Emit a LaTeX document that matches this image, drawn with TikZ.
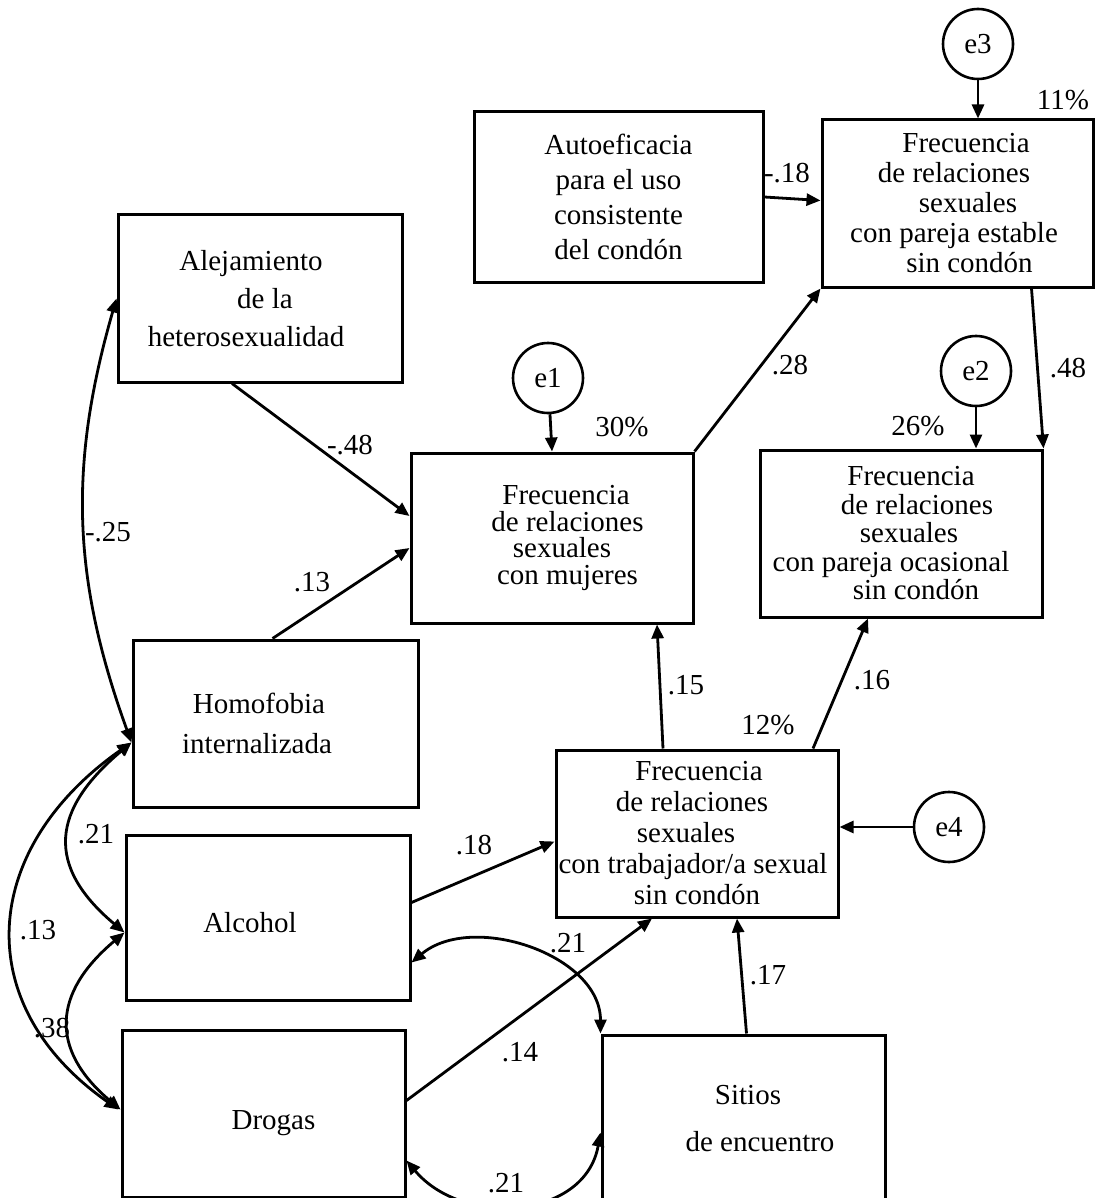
\documentclass[tikz,border=0pt]{standalone}
\usepackage{fontspec}
\setmainfont{Liberation Serif}
\usetikzlibrary{arrows.meta}

\begin{document}
\begin{tikzpicture}[
    x=1pt, y=1pt,
    caja/.style={draw, line width=3pt, inner sep=0pt, align=center,
      minimum width=282pt, minimum height=167pt, font=\fontsize{29}{#1}\selectfont},
    caja/.default=30,
    error/.style={circle, draw, line width=2.6pt, minimum size=70pt, inner sep=0pt,
      font=\fontsize{29}{30}\selectfont},
    coef/.style={inner sep=0pt, font=\fontsize{29}{30}\selectfont},
    ruta/.style={-{Triangle[length=14pt,width=12pt]}, line width=2.8pt},
    cova/.style={{Triangle[length=14pt,width=12pt]}-{Triangle[length=14pt,width=12pt]}, line width=2.8pt}
  ]
  \useasboundingbox (0,0) rectangle (1100,-1198);
  \clip (0,0) rectangle (1100,-1198);

  % Variables observadas
  \node[caja=38, minimum width=284pt] (Alej) at (260,-298.5)
    {\hspace*{-18pt}Alejamiento\\\hspace*{10pt}de la\\\hspace*{-28pt}heterosexualidad};
  \node[caja=35, minimum width=289pt, minimum height=170pt] (Auto) at (618.5,-197)
    {Autoeficacia\\para el uso\\consistente\\del condón};
  \node[caja=30, minimum width=271pt] (Est) at (957.5,-203.5)
    {\hspace*{17pt}Frecuencia\\\hspace*{-7pt}de relaciones\\\hspace*{21pt}sexuales\\\hspace*{-7pt}con pareja estable\\\hspace*{24pt}sin condón};
  \node[caja=26.5, minimum height=170pt] (Muj) at (552,-538)
    {\hspace*{28pt}Frecuencia\\\hspace*{31pt}de relaciones\\\hspace*{20pt}sexuales\\\hspace*{31pt}con mujeres};
  \node[caja=28.5] (Ocas) at (901,-533.5)
    {\hspace*{20pt}Frecuencia\\\hspace*{32pt}de relaciones\\\hspace*{16pt}sexuales\\\hspace*{-20pt}con pareja ocasional\\\hspace*{30pt}sin condón};
  \node[caja=40, minimum width=285pt] (Homo) at (275.5,-723.5)
    {\hspace*{-33pt}Homofobia\\\hspace*{-37pt}internalizada};
  \node[caja=31] (Trab) at (697,-833.5)
    {\hspace*{4pt}Frecuencia\\\hspace*{-10pt}de relaciones\\\hspace*{-22pt}sexuales\\\hspace*{-8pt}con trabajador/a sexual\\sin condón};
  \node[caja, minimum width=284pt, minimum height=165pt] (Alc) at (268,-917.5)
    {\hspace*{-36pt}\raisebox{-15pt}[0pt][0pt]{Alcohol}};
  \node[caja, minimum width=283pt] (Drog) at (263.5,-1113.5)
    {\hspace*{20pt}\raisebox{-16pt}[0pt][0pt]{Drogas}};
  \node[caja=47, minimum width=283pt] (Sit) at (743.5,-1118.5)
    {\hspace*{9pt}Sitios\\\hspace*{33pt}de encuentro};

  % Errores
  \node[error] (e3) at (978,-44) {e3};
  \node[error] (e1) at (548,-378) {e1};
  \node[error] (e2) at (976,-371) {e2};
  \node[error] (e4) at (949,-827) {e4};

  \draw[ruta] (e3) -- (e3 |- Est.north);
  \draw[ruta] (e1) -- (Muj.north);
  \draw[ruta] (e2) -- (e2 |- Ocas.north);
  \draw[ruta] (e4) -- (e4 -| Trab.east);

  % Efectos directos
  \draw[ruta] (Auto.east) -- ([yshift=3pt]Est.west);
  \draw[ruta] (Muj.north east) -- (Est.south west);
  \draw[ruta] ([xshift=-63pt]Est.south east) -- (Ocas.north east);
  \draw[ruta] ([xshift=-28pt]Alej.south) -- ([yshift=22pt]Muj.west);
  \draw[ruta] ([xshift=-3pt]Homo.north) -- ([yshift=-10pt]Muj.west);
  \draw[ruta] ([xshift=-34pt]Trab.north) -- ([xshift=105pt]Muj.south);
  \draw[ruta] ([xshift=116pt]Trab.north) -- ([xshift=-33pt]Ocas.south);
  \draw[ruta] ([yshift=15pt]Alc.east) -- ([yshift=-8pt]Trab.west);
  \draw[ruta] ([yshift=13pt]Drog.east) -- ([xshift=-45pt]Trab.south);
  \draw[ruta] ([xshift=3pt]Sit.north) -- ([xshift=40pt]Trab.south);

  % Covarianzas
  \draw[cova] ([yshift=-19pt]Homo.west) to[bend left=18] (Alej.west);
  \draw[cova] ([yshift=-19pt]Homo.west) to[out=220, in=140, looseness=1.4] ([yshift=-15pt]Alc.west);
  \draw[cova] ([yshift=-19pt]Homo.west) to[out=215, in=145, looseness=1.28] ([xshift=-2pt,yshift=4pt]Drog.west);
  \draw[cova] ([yshift=-15pt]Alc.west) to[out=220, in=140, looseness=1.35] ([yshift=4pt]Drog.west);
  \draw[cova] ([yshift=-45pt]Alc.east) to[out=40, in=90] (Sit.north west);
  \draw[cova] ([yshift=-47pt]Drog.east) to[out=-50, in=-100, looseness=1.15] ([yshift=-14pt]Sit.west);

  % Coeficientes y varianza explicada
  \node[coef] (r2Est) at (1063,-100) {11\%};
  \node[coef] (r2Muj) at (622,-427) {30\%};
  \node[coef] (r2Ocas) at (918,-426) {26\%};
  \node[coef] (r2Trab) at (768,-725) {12\%};
  \node[coef] (cAutoEst) at (787,-173) {-.18};
  \node[coef] (cMujEst) at (790,-365) {.28};
  \node[coef] (cEstOcas) at (1068,-368) {.48};
  \node[coef] (cAlejMuj) at (350,-445) {-.48};
  \node[coef] (cAlejHomo) at (108,-532) {-.25};
  \node[coef] (cHomoMuj) at (312,-582) {.13};
  \node[coef] (cTrabMuj) at (686,-685) {.15};
  \node[coef] (cTrabOcas) at (872,-680) {.16};
  \node[coef] (cHomoAlc) at (96,-834) {.21};
  \node[coef] (cAlcTrab) at (474,-845) {.18};
  \node[coef] (cHomoDrog) at (38,-930) {.13};
  \node[coef] (cAlcSit) at (568,-943) {.21};
  \node[coef] (cSitTrab) at (768,-975) {.17};
  \node[coef] (cAlcDrog) at (52,-1028) {.38};
  \node[coef] (cDrogTrab) at (520,-1052) {.14};
  \node[coef] (cDrogSit) at (506,-1183) {.21};
\end{tikzpicture}
\end{document}
